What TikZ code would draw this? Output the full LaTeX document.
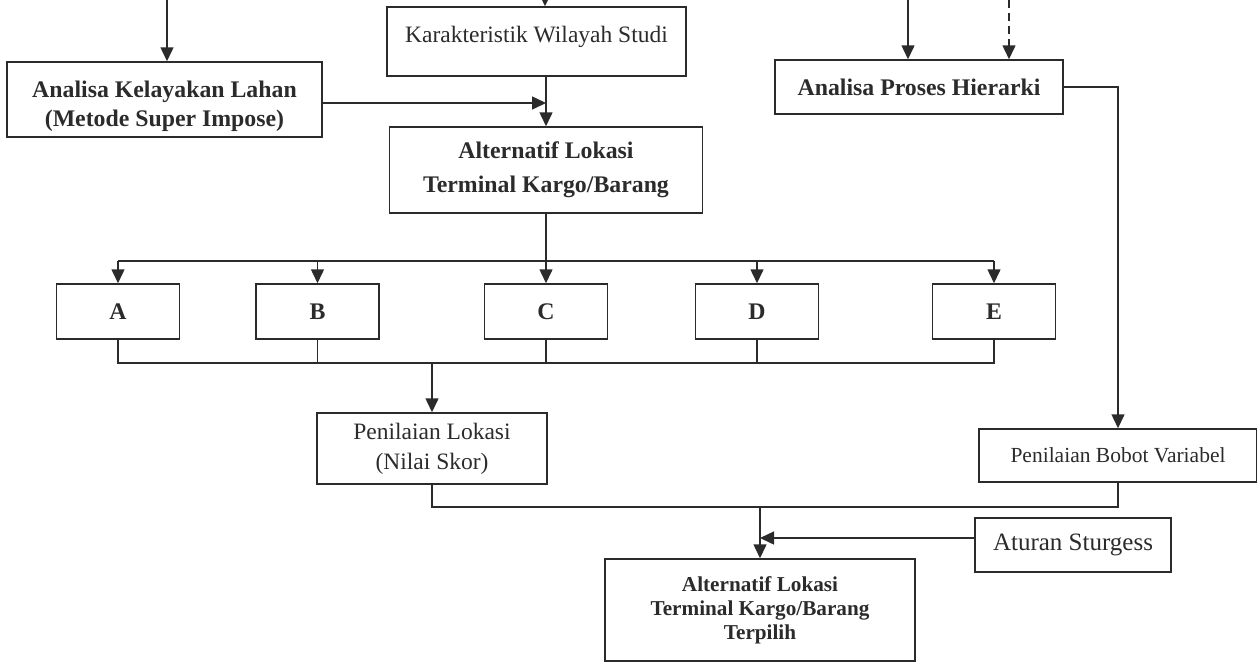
\documentclass[tikz,border=0pt]{standalone}
\usepackage{fontspec}
\setmainfont{Liberation Serif}
\usetikzlibrary{arrows.meta}
\definecolor{ink}{HTML}{2B2B2B}
\begin{document}
\begin{tikzpicture}[x=1pt,y=-1pt,
  box/.style={draw=ink, line width=1.5pt, rectangle, inner sep=2pt, align=center, text=ink},
  reg/.style={font=\fontsize{23.5}{30}\selectfont},
  bld/.style={font=\fontsize{23.8}{29}\selectfont\bfseries},
  link/.style={draw=ink, line width=1.5pt},
  arr/.style={link, -{Triangle[length=14pt,width=13pt]}},
  letter/.style={box, bld, minimum width=123pt, minimum height=55pt},
]
\useasboundingbox (0,0) rectangle (1257,664);

% process boxes
\node[box,bld,minimum width=315pt,minimum height=75pt] (kel) at (164.5,99.5)
  {\rule{0pt}{30pt}Analisa Kelayakan Lahan\\(Metode Super Impose)};
\node[box,reg,minimum width=299pt,minimum height=69pt,text depth=14pt] (kar) at (536.5,41.5)
  {Karakteristik Wilayah Studi};
\node[box,font=\fontsize{23.8}{34}\selectfont\bfseries,minimum width=313pt,minimum height=86pt] (alt) at (546,170)
  {Alternatif Lokasi\\Terminal Kargo/Barang};
\node[box,bld,minimum width=288pt,minimum height=54pt] (aph) at (919,87)
  {Analisa Proses Hierarki};

% alternatives
\node[letter] (A) at (118,311.5) {A};
\node[letter] (B) at (317.5,311.5) {B};
\node[letter] (C) at (546,311.5) {C};
\node[letter] (D) at (757,311.5) {D};
\node[letter] (E) at (994,311.5) {E};

% scoring and result
\node[box,reg,minimum width=230pt,minimum height=71pt] (pl) at (432,448.5)
  {Penilaian Lokasi\\(Nilai Skor)};
\node[box,font=\fontsize{21.5}{26}\selectfont,minimum width=278pt,minimum height=53pt] (pb) at (1118,455.5)
  {Penilaian Bobot Variabel};
\node[box,font=\fontsize{25}{30}\selectfont,minimum width=196pt,minimum height=54pt] (as) at (1073,545)
  {Aturan Sturgess};
\node[box,font=\fontsize{21.2}{24}\selectfont\bfseries,minimum width=310pt,minimum height=102pt] (fin) at (760,610)
  {Alternatif Lokasi\\Terminal Kargo/Barang\\Terpilih};

% helper coordinates
\coordinate (s1) at (167,0);
\coordinate (s2) at (545,0);
\coordinate (s3) at (908,0);
\coordinate (s4) at (1009,0);
\coordinate (mid) at (546,103);
\coordinate (bt) at (0,261);
\coordinate (bb) at (0,363);
\coordinate (cb) at (0,507);
\coordinate (sy) at (0,538);

% incoming arrows from above
\draw[arr] (s1) -- (s1 |- kel.north);
\draw[arr] (s2) -- (s2 |- kar.north);
\draw[arr] (s3) -- (s3 |- aph.north);
\draw[arr,dash pattern=on 8pt off 5pt] (s4) -- (s4 |- aph.north);

% into the alternative locations
\draw[arr] (kar.south -| alt.north) -- (alt.north);
\draw[arr] (kel.east |- mid) -- (mid);

% distribution to A..E
\draw[arr] (alt.south) -- (C.north);
\draw[link] (A.north |- bt) -- (E.north |- bt);
\foreach \n in {A,B,D,E} \draw[arr] (\n.north |- bt) -- (\n.north);

% collection from A..E
\draw[link] (A.south) -- (A.south |- bb) -- (E.south |- bb) -- (E.south);
\foreach \n in {B,C,D} \draw[link] (\n.south) -- (\n.south |- bb);
\draw[arr] (pl.north |- bb) -- (pl.north);

% weights branch
\draw[arr] (aph.east) -| (pb.north);

% merge into the result
\draw[link] (pl.south) -- (pl.south |- cb) -- (pb.south |- cb) -- (pb.south);
\draw[arr] (fin.north |- cb) -- (fin.north);
\draw[arr] (as.west |- sy) -- (fin.north |- sy);
\end{tikzpicture}
\end{document}
